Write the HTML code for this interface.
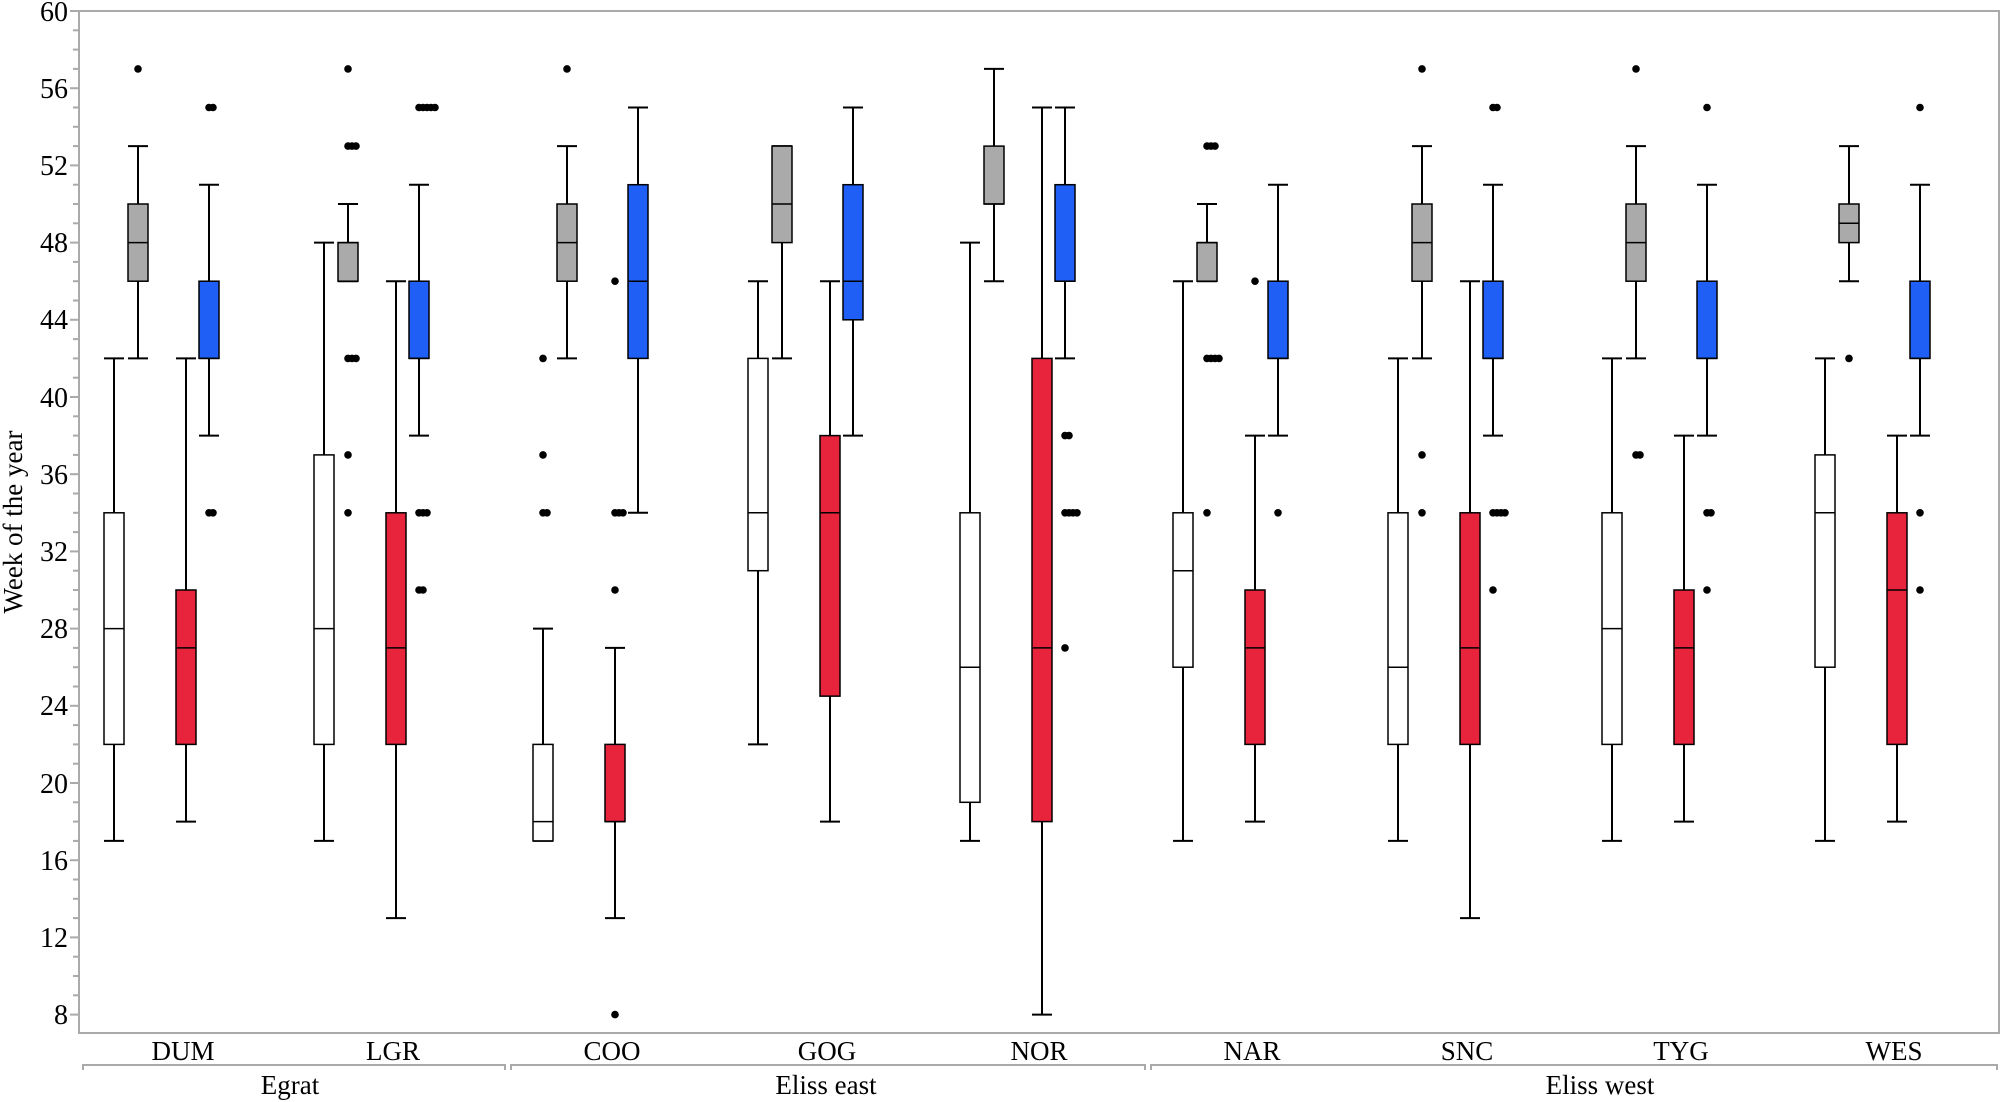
<!DOCTYPE html>
<html><head><meta charset="utf-8"><style>
html,body{margin:0;padding:0;background:#fff}
svg{display:block;font-family:"Liberation Serif",serif}
</style></head><body>
<svg id="s" width="2007" height="1102" viewBox="0 0 2007 1102" xmlns="http://www.w3.org/2000/svg">
<rect x="0" y="0" width="2007" height="1102" fill="#fff"/>
<g id="ax" stroke="#aaa" stroke-width="2" fill="none">
<path d="M79,11 H1999 V1033 H79 Z"/>
</g>
<g font-size="28" fill="#000" text-anchor="end">
<text x="68" y="21">60</text><text x="68" y="98">56</text><text x="68" y="175">52</text><text x="68" y="252">48</text>
<text x="68" y="329">44</text><text x="68" y="407">40</text><text x="68" y="484">36</text><text x="68" y="561">32</text>
<text x="68" y="638">28</text><text x="68" y="715">24</text><text x="68" y="793">20</text><text x="68" y="870">16</text>
<text x="68" y="947">12</text><text x="68" y="1024">8</text>
</g>
<text transform="translate(22,522) rotate(-90)" font-size="27" text-anchor="middle">Week of the year</text>
<g font-size="27" text-anchor="middle">
<text x="183" y="1060">DUM</text><text x="393" y="1060">LGR</text><text x="612" y="1060">COO</text>
<text x="827" y="1060">GOG</text><text x="1039" y="1060">NOR</text><text x="1252" y="1060">NAR</text>
<text x="1467" y="1060">SNC</text><text x="1681" y="1060">TYG</text><text x="1894" y="1060">WES</text>
<text x="290" y="1094">Egrat</text><text x="826" y="1094">Eliss east</text><text x="1600" y="1094">Eliss west</text>
</g>
<g stroke="#aaa" stroke-width="2" fill="none">
<path d="M83,1070 V1065 H505 V1070"/><path d="M511,1070 V1065 H1145 V1070"/><path d="M1151,1070 V1065 H1997 V1070"/>
</g>
<g id="plot"></g>
</svg>
<script>
(function(){
var NS="http://www.w3.org/2000/svg",g=document.getElementById('plot'),ax=document.getElementById('ax');
function Y(v){return 11+(60-v)*19.3;}
function el(t,a,p){var e=document.createElementNS(NS,t);for(var k in a)e.setAttribute(k,a[k]);(p||g).appendChild(e);return e;}
for(var v=8;v<=60;v++){var y=Y(v);el('line',{x1:79,x2:(v%4==0?70:73),y1:y,y2:y},ax);}
var cols=[["#fff",-69],["#aaa",-45],["#e8243c",3],["#1f5ff5",26]];
var centers=[183,393,612,827,1039,1252,1467,1681,1894];
var D=[
[[17,22,28,34,42,[]],[42,46,48,50,53,[57]],[18,22,27,30,42,[]],[38,42,42,46,51,[55,55,34,34]]],
[[17,22,28,37,48,[]],[46,46,48,48,50,[57,53,53,53,42,42,42,37,34]],[13,22,27,34,46,[]],[38,42,42,46,51,[55,55,55,55,55,34,34,34,30,30]]],
[[17,17,18,22,28,[34,34,37,42]],[42,46,48,50,53,[57]],[13,18,18,22,27,[8,30,34,34,34,46]],[34,42,46,51,55,[]]],
[[22,31,34,42,46,[]],[42,48,50,53,53,[]],[18,24.5,34,38,46,[]],[38,44,46,51,55,[]]],
[[17,19,26,34,48,[]],[46,50,50,53,57,[]],[8,18,27,42,55,[]],[42,46,46,51,55,[38,38,34,34,34,34,27]]],
[[17,26,31,34,46,[]],[46,46,48,48,50,[53,53,53,42,42,42,42,34]],[18,22,27,30,38,[46]],[38,42,42,46,51,[34]]],
[[17,22,26,34,42,[]],[42,46,48,50,53,[57,37,34]],[13,22,27,34,46,[]],[38,42,42,46,51,[55,55,34,34,34,34,30]]],
[[17,22,28,34,42,[]],[42,46,48,50,53,[57,37,37]],[18,22,27,30,38,[]],[38,42,42,46,51,[55,34,34,30]]],
[[17,26,34,37,42,[]],[46,48,49,50,53,[42]],[18,22,30,34,38,[]],[38,42,42,46,51,[55,34,30]]]
];
var W=20;
D.forEach(function(cat,i){cat.forEach(function(b,j){
 var x=centers[i]+cols[j][1];
 el('line',{x1:x,x2:x,y1:Y(b[4]),y2:Y(b[3]),stroke:'#000','stroke-width':2});
 el('line',{x1:x,x2:x,y1:Y(b[1]),y2:Y(b[0]),stroke:'#000','stroke-width':2});
 el('line',{x1:x-W/2,x2:x+W/2,y1:Y(b[4]),y2:Y(b[4]),stroke:'#000','stroke-width':2});
 el('line',{x1:x-W/2,x2:x+W/2,y1:Y(b[0]),y2:Y(b[0]),stroke:'#000','stroke-width':2});
 el('rect',{x:x-W/2,y:Y(b[3]),width:W,height:Math.max(Y(b[1])-Y(b[3]),1),fill:cols[j][0],stroke:'#000','stroke-width':1.5});
 el('line',{x1:x-W/2,x2:x+W/2,y1:Y(b[2]),y2:Y(b[2]),stroke:'#000','stroke-width':1.5});
 var cnt={};b[5].forEach(function(o){var n=cnt[o]||0;cnt[o]=n+1;
  el('circle',{cx:x+n*4,cy:Y(o),r:3.8,fill:'#000'});});
});});
})();
</script>
</body></html>
